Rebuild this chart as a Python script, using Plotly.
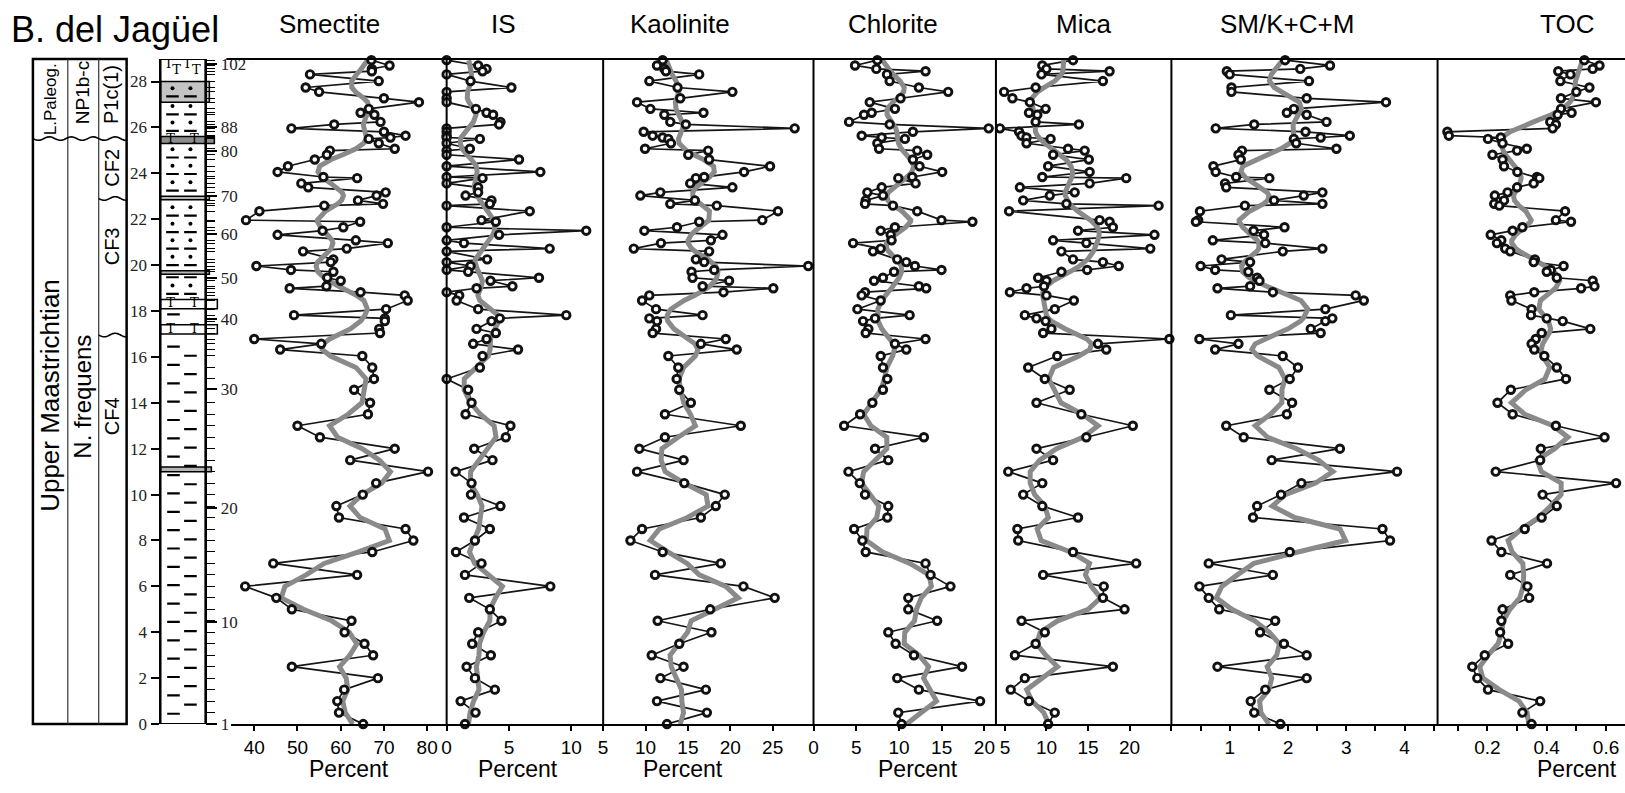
import numpy as np
import plotly.graph_objects as go

W, H = 1625, 793

# ---------------- data (top of section first) ----------------
depth_m = [28.93, 28.7, 28.55, 28.45, 28.31, 28.02, 27.74, 27.55, 27.27, 27.1,
           26.81, 26.64, 26.55, 26.24, 26.13, 25.96, 25.81, 25.64, 25.56, 25.5,
           25.31, 25.07, 24.99, 24.81, 24.6, 24.31, 24.06, 23.84, 23.79, 23.56,
           23.39, 23.17, 23.03, 22.82, 22.67, 22.59, 22.35, 21.96, 21.89, 21.65,
           21.5, 21.32, 21.08, 20.96, 20.72, 20.6, 20.25, 20.13, 19.96, 19.79,
           19.71, 19.45, 19.32, 19.08, 18.99, 18.82, 18.68, 18.46, 18.08, 17.82,
           17.68, 17.56, 17.22, 17.04, 16.78, 16.57, 16.32, 16.04, 15.54, 15.04,
           14.57, 14.0, 13.5, 13.0, 12.5, 12.0, 11.5, 11.0, 10.5, 10.0,
           9.5, 9.0, 8.5, 8.0, 7.5, 7.0, 6.5, 6.0, 5.5, 5.0,
           4.5, 4.0, 3.5, 3.0, 2.5, 2.0, 1.5, 1.0, 0.5, 0.0]

smectite = [67.1, 71.3, 67.2, 67.2, 52.9, 68.8, 51.9, 55.0, 70.0, 78.1,
            66.5, 64.6, 67.8, 69.2, 58.5, 48.6, 70.0, 75.0, 71.5, 66.5,
            68.8, 72.5, 57.5, 56.8, 54.0, 47.8, 45.4, 56.0, 63.8, 50.9,
            52.5, 70.4, 68.3, 64.0, 69.8, 56.2, 41.2, 38.1, 64.5, 60.6,
            55.8, 45.4, 63.5, 70.9, 61.4, 51.3, 58.3, 57.7, 40.5, 48.5,
            58.3, 56.9, 60.0, 56.7, 48.2, 64.6, 74.8, 75.5, 70.5, 49.2,
            70.2, 70.2, 68.9, 69.1, 40.0, 55.5, 46.0, 65.0, 67.3, 67.7,
            63.1, 66.8, 66.3, 50.0, 55.2, 72.5, 62.2, 80.2, 68.2, 65.1,
            59.0, 59.6, 75.0, 76.8, 67.3, 44.4, 63.8, 37.9, 45.1, 48.7,
            62.5, 60.9, 65.5, 67.5, 48.7, 68.6, 60.8, 59.2, 59.6, 65.2]

illite_smectite = [0, 2.53, 3.2, 2.88, 0, 1.92, 5.2, 0, 0, 0,
                   2.35, 3.2, 3.73, 4.32, 4.21, 0, 0, 0, 0, 2.67,
                   0, 1.87, 0, 0, 5.81, 0, 7.52, 0, 2.88, 0,
                   2.53, 2.53, 1.52, 3.6, 3.47, 0, 6.67, 2.8, 3.95, 0,
                   11.2, 4.21, 0, 1.39, 8.27, 0, 3.25, 0, 1.92, 0,
                   1.73, 7.41, 3.52, 5.28, 2.4, 0, 1.01, 0.8, 2.53, 9.6,
                   4.27, 3.6, 2.4, 3.95, 3.2, 2.13, 5.73, 2.88, 2.67, 0,
                   1.73, 2.0, 1.52, 5.12, 4.75, 2.21, 3.68, 0.72, 2.0, 1.95,
                   4.32, 1.39, 3.47, 2.27, 0.75, 2.8, 1.47, 8.32, 1.81, 3.47,
                   4.4, 2.53, 2.05, 3.55, 1.6, 2.27, 3.87, 1.12, 2.32, 1.47]

kaolinite = [12.02, 11.35, 12.22, 12.41, 16.33, 10.45, 13.78, 20.25, 14.1, 9.0,
             10.57, 16.84, 12.22, 12.92, 14.76, 27.6, 9.78, 10.84, 12.02, 12.69,
             13.0, 9.94, 17.39, 15.04, 17.51, 24.69, 21.63, 16.92, 15.94, 15.27,
             20.25, 11.75, 9.39, 15.82, 12.92, 18.41, 25.63, 23.78, 16.33, 13.71,
             9.86, 19.08, 17.71, 11.82, 8.61, 17.51, 15.94, 16.92, 29.2, 18.1,
             15.43, 15.55, 19.86, 16.73, 25.08, 19.2, 10.45, 9.59, 11.24, 16.73,
             10.45, 11.35, 11.24, 10.84, 19.47, 16.53, 20.76, 12.69, 13.86, 13.67,
             13.98, 15.35, 12.29, 21.24, 12.29, 9.27, 14.49, 9.0, 14.57, 19.35,
             18.29, 16.53, 9.59, 8.22, 12.02, 18.88, 11.12, 21.55, 25.24, 17.63,
             11.43, 17.78, 13.98, 10.73, 14.49, 11.75, 17.12, 11.35, 17.24, 12.53]

chlorite = [7.47, 4.86, 7.35, 13.11, 8.6, 8.91, 12.33, 15.76, 10.19, 6.58,
            9.53, 6.81, 5.91, 4.16, 8.91, 20.5, 11.63, 5.64, 7.98, 10.7,
            7.47, 7.67, 12.14, 13.31, 11.63, 12.41, 15.06, 11.56, 9.92, 11.95,
            7.98, 6.3, 8.13, 6.11, 6.03, 9.3, 12.14, 14.98, 18.6, 9.53,
            7.86, 9.03, 9.14, 4.63, 7.86, 6.96, 9.8, 10.86, 11.87, 14.98,
            9.42, 8.13, 7.08, 12.33, 13.19, 6.03, 5.64, 7.86, 5.14, 11.25,
            7.2, 5.8, 6.42, 6.11, 13.11, 9.53, 10.86, 7.86, 8.13, 8.64,
            8.13, 6.89, 5.45, 3.58, 12.92, 7.2, 8.75, 4.09, 5.41, 6.03,
            8.75, 8.64, 4.75, 5.72, 6.11, 13.11, 13.7, 16.03, 11.09, 11.09,
            14.47, 8.75, 9.61, 11.75, 17.39, 9.8, 12.33, 19.5, 9.92, 10.31]

mica = [13.2, 9.5, 10.0, 17.6, 9.4, 16.8, 8.7, 4.9, 5.9, 8.0,
        9.9, 7.9, 8.9, 8.7, 13.9, 4.4, 6.7, 7.0, 7.6, 10.5,
        7.6, 12.6, 14.6, 10.8, 15.1, 10.2, 15.2, 9.5, 19.6, 15.2,
        6.8, 13.4, 10.4, 7.2, 12.4, 23.5, 5.5, 16.4, 17.6, 18.0,
        13.8, 23.0, 10.8, 14.8, 22.5, 11.8, 13.2, 16.8, 18.7, 14.9,
        11.8, 9.0, 10.0, 9.7, 7.6, 5.6, 10.0, 13.3, 11.0, 7.4,
        8.8, 9.9, 10.6, 9.6, 24.8, 16.2, 17.2, 11.3, 7.8, 9.8,
        12.8, 8.8, 14.2, 20.4, 14.8, 8.8, 10.8, 5.4, 9.5, 7.2,
        9.5, 13.8, 6.5, 6.6, 13.2, 20.8, 9.6, 16.9, 16.8, 19.4,
        7.0, 9.8, 8.7, 6.2, 18.0, 7.4, 5.7, 7.9, 11.0, 10.2]

sm_kcm = [1.95, 2.72, 2.21, 0.95, 1.0, 2.36, 1.03, 1.03, 2.32, 3.68,
          2.1, 1.98, 2.32, 2.66, 1.42, 0.76, 2.3, 3.06, 2.56, 2.1,
          2.14, 2.83, 1.21, 1.15, 1.19, 0.72, 0.76, 1.11, 1.68, 0.92,
          0.94, 2.59, 2.27, 1.76, 2.59, 1.26, 0.49, 0.46, 0.42, 1.94,
          1.41, 1.59, 0.71, 1.61, 2.59, 1.91, 0.86, 1.35, 0.5, 0.75,
          1.32, 1.47, 1.51, 1.35, 0.79, 1.74, 3.16, 3.3, 2.64, 1.02,
          2.76, 2.64, 2.39, 2.56, 0.48, 1.15, 0.75, 1.91, 2.17, 2.03,
          1.68, 2.07, 1.98, 0.94, 1.24, 2.89, 1.72, 3.87, 2.23, 1.88,
          1.47, 1.4, 3.62, 3.75, 2.03, 0.64, 1.74, 0.48, 0.64, 0.82,
          1.78, 1.52, 1.93, 2.32, 0.79, 2.32, 1.61, 1.36, 1.42, 1.87]

toc = [0.527, 0.578, 0.555, 0.439, 0.48, 0.446, 0.544, 0.50, 0.448, 0.566,
       0.448, 0.484, 0.437, 0.412, 0.431, 0.42, 0.065, 0.07, 0.245, 0.202,
       0.251, 0.333, 0.30, 0.217, 0.251, 0.256, 0.301, 0.367, 0.375, 0.356,
       0.30, 0.268, 0.225, 0.256, 0.223, 0.24, 0.462, 0.431, 0.482, 0.318,
       0.285, 0.211, 0.247, 0.232, 0.26, 0.277, 0.36, 0.356, 0.457, 0.414,
       0.40, 0.434, 0.555, 0.561, 0.516, 0.358, 0.277, 0.281, 0.349, 0.347,
       0.40, 0.454, 0.547, 0.383, 0.363, 0.349, 0.358, 0.392, 0.434, 0.465,
       0.279, 0.234, 0.285, 0.431, 0.595, 0.38, 0.378, 0.228, 0.634, 0.386,
       0.434, 0.383, 0.326, 0.214, 0.247, 0.401, 0.277, 0.335, 0.341, 0.251,
       0.247, 0.243, 0.27, 0.191, 0.149, 0.166, 0.202, 0.378, 0.318, 0.349]

panel_titles = ["Smectite", "IS", "Kaolinite", "Chlorite", "Mica", "SM/K+C+M", "TOC"]
panel_series = [smectite, illite_smectite, kaolinite, chlorite, mica, sm_kcm, toc]
panel_tickvals = [[40, 50, 60, 70, 80], [0, 5, 10], [5, 10, 15, 20, 25], [0, 5, 10, 15, 20],
                  [5, 10, 15, 20], [1, 2, 3, 4], [0.2, 0.4, 0.6]]
depth_ticks = [0, 2, 4, 6, 8, 10, 12, 14, 16, 18, 20, 22, 24, 26, 28]
sample_labels = ["1", "10", "20", "30", "40", "50", "60", "70", "80", "88", "102"]
sample_label_depth = [0, 4.44, 9.4, 14.6, 17.65, 19.42, 21.36, 23.03, 24.96, 26.03, 28.75]

for s in panel_series:
    assert len(s) == len(depth_m), len(s)

# ---------------- styling / layout geometry ----------------
panel_px = [(227, 443), (443, 600), (600, 811), (811, 994), (994, 1170), (1170, 1437), (1437, 1625)]
panel_range = [(34.7, 84.5), (0, 12.56), (5, 29.82), (0, 21.35), (3.92, 25.04), (0, 4.565), (0.032, 0.664)]
title_x = [326, 500, 677, 891, 1082, 1286, 1567]
percent_x = [345, 515, 680, 916, None, None, 1577]
TOP, BOT = 56, 733
YMAX = (BOT - TOP) / 23.36

SANS = "Liberation Sans, Arial, sans-serif"
SERIF = "Liberation Serif, Times New Roman, serif"


def px(x):
    return x / W


def py(y):
    return 1 - y / H


def smooth(d, v, s=0.5):
    d = np.asarray(d, float)
    v = np.asarray(v, float)
    w = np.exp(-0.5 * ((d[:, None] - d[None, :]) / s) ** 2)
    return (w @ v) / w.sum(axis=1)


fig = go.Figure()

layout = dict(
    width=W, height=H, autosize=False,
    margin=dict(l=0, r=0, t=0, b=0, pad=0),
    paper_bgcolor="white", plot_bgcolor="white",
    showlegend=False,
    xaxis=dict(domain=[px(156), px(201)], range=[156, 201], visible=False, fixedrange=True),
    yaxis=dict(domain=[py(BOT), py(TOP)], range=[0, YMAX], anchor="x", side="left",
               showline=True, linewidth=2, linecolor="black", ticks="outside", ticklen=8,
               tickwidth=1.5, tickcolor="black", tickvals=depth_ticks,
               tickfont=dict(family=SERIF, size=17, color="#222"), showgrid=False, zeroline=False),
    yaxis2=dict(domain=[py(BOT), py(TOP)], range=[0, YMAX], overlaying="y", anchor="x", side="right",
                showline=True, linewidth=2, linecolor="black", ticks="outside", ticklen=8,
                tickwidth=1.3, tickcolor="black", tickvals=depth_m, showticklabels=False,
                showgrid=False, zeroline=False),
    yaxis3=dict(domain=[py(BOT), py(TOP)], range=[0, YMAX], overlaying="y", anchor="x", side="right",
                showline=False, ticks="outside", ticklen=11, tickwidth=1.5, tickcolor="black",
                tickvals=sample_label_depth, ticktext=sample_labels,
                tickfont=dict(family=SERIF, size=17, color="#222"), showgrid=False, zeroline=False),
)

for i in range(7):
    ax = "xaxis%d" % (i + 2)
    a, b = panel_px[i]
    d = dict(domain=[px(a), px(b)], range=list(panel_range[i]), anchor="y",
             showline=True, linewidth=2, linecolor="black", ticks="outside", ticklen=5,
             tickwidth=1.5, tickcolor="black", tickvals=panel_tickvals[i],
             tickfont=dict(family=SANS, size=19, color="black"), showgrid=False, zeroline=False)
    if panel_titles[i] == "SM/K+C+M":
        d["minor"] = dict(ticks="outside", ticklen=5, tickwidth=1.5, tickcolor="black", dtick=0.5, tick0=0)
    if panel_titles[i] == "TOC":
        d["minor"] = dict(ticks="outside", ticklen=5, tickwidth=1.5, tickcolor="black", dtick=0.1, tick0=0)
        d["ticktext"] = ["0.2", "0.4", "0.6"]
    layout[ax] = d

# ---------------- data traces ----------------
for i, vals in enumerate(panel_series):
    xa = "x%d" % (i + 2)
    fig.add_trace(go.Scatter(x=vals, y=depth_m, xaxis=xa, yaxis="y", mode="lines",
                             line=dict(color="#151515", width=1.7), cliponaxis=False, hoverinfo="skip"))
    fig.add_trace(go.Scatter(x=smooth(depth_m, vals), y=depth_m, xaxis=xa, yaxis="y", mode="lines",
                             line=dict(color="#8a8a8a", width=5), cliponaxis=False, hoverinfo="skip"))
    fig.add_trace(go.Scatter(x=vals, y=depth_m, xaxis=xa, yaxis="y", mode="markers",
                             marker=dict(symbol="circle", size=7.5, color="white",
                                         line=dict(color="#111", width=2.9)),
                             cliponaxis=False, hoverinfo="skip"))

# invisible helpers so the sample-number axes are drawn
for ya in ["y2", "y3"]:
    fig.add_trace(go.Scatter(x=[170], y=[1], xaxis="x", yaxis=ya, mode="markers",
                             marker=dict(opacity=0), hoverinfo="skip"))

# ---------------- lithology column decorations ----------------
shapes = []
beds = [(11.0, 11.2, "#b4b4b4", 207), (17.0, 17.4, "white", 213), (18.1, 18.5, "white", 213),
        (19.6, 19.75, "#b4b4b4", 205), (22.85, 23.0, "#b4b4b4", 205), (25.3, 25.6, "#8c8c8c", 210),
        (27.1, 28.0, "#c4c4c4", 205)]
for b0, b1, fc, xr in beds:
    shapes.append(dict(type="rect", xref="paper", yref="y", x0=px(156), x1=px(xr), y0=b0, y1=b1,
                       fillcolor=fc, line=dict(color="black", width=1.5), layer="below"))
shapes.append(dict(type="rect", xref="paper", yref="y", x0=px(156), x1=px(201), y0=0, y1=YMAX,
                   line=dict(color="black", width=2), fillcolor="rgba(0,0,0,0)"))

dash_x, dash_y, dot_x, dot_y, t_x, t_y = [], [], [], [], [], []
for lo, hi in [(0.0, 17.0), (17.4, 18.1)]:
    y = lo + 0.45
    k = 0
    while y < hi - 0.15:
        dash_x.append(169 if k % 2 == 0 else 186)
        dash_y.append(y)
        y += 0.4
        k += 1
for lo, hi in [(18.5, 19.6), (19.75, 22.85), (23.0, 25.3), (25.6, 27.1), (27.1, 28.0)]:
    y = lo + 0.25
    k = 0
    while y < hi - 0.12:
        if k % 2 == 0:
            dash_x += [168, 186]
            dash_y += [y, y]
        else:
            dot_x += [168, 186]
            dot_y += [y, y]
        y += 0.36
        k += 1
for yc, xs in [(17.2, [166, 190]), (18.3, [166, 190]), (28.75, [164, 183]), (28.45, [172, 192]),
               (25.45, [166, 190])]:
    for xx in xs:
        t_x.append(xx)
        t_y.append(yc)

fig.add_trace(go.Scatter(x=dash_x, y=dash_y, xaxis="x", yaxis="y", mode="markers",
                         marker=dict(symbol="line-ew", size=9, line=dict(color="black", width=2.2)),
                         hoverinfo="skip"))
fig.add_trace(go.Scatter(x=dot_x, y=dot_y, xaxis="x", yaxis="y", mode="markers",
                         marker=dict(symbol="circle", size=4, color="black"), hoverinfo="skip"))
fig.add_trace(go.Scatter(x=t_x, y=t_y, xaxis="x", yaxis="y", mode="text", text=["T"] * len(t_x),
                         textfont=dict(family="DejaVu Serif", size=13, color="black"), hoverinfo="skip"))

shapes.append(dict(type="line", xref="paper", yref="paper", x0=px(222), x1=px(1625), y0=py(TOP), y1=py(TOP),
                   line=dict(color="black", width=2)))
for xv in [443, 600, 811, 994, 1170, 1437]:
    shapes.append(dict(type="line", xref="paper", yref="paper", x0=px(xv), x1=px(xv), y0=py(TOP), y1=py(BOT),
                       line=dict(color="black", width=2)))

shapes.append(dict(type="rect", xref="paper", yref="paper", x0=px(28), x1=px(122), y0=py(BOT), y1=py(TOP),
                   line=dict(color="black", width=2.5)))
for xv in [63, 94]:
    shapes.append(dict(type="line", xref="paper", yref="paper", x0=px(xv), x1=px(xv), y0=py(BOT), y1=py(TOP),
                       line=dict(color="#333", width=1.2)))


def wavy(x0, x1, yc, amp=1.8, period=22.0):
    xs = np.linspace(x0, x1, 40)
    ys = yc + amp * np.sin(2 * np.pi * (xs - x0) / period)
    return "M " + " L ".join("%.5f,%.5f" % (px(a), py(b)) for a, b in zip(xs, ys))


for x0, x1, yc in [(28, 122, 137), (94, 122, 198), (94, 122, 337)]:
    shapes.append(dict(type="path", xref="paper", yref="paper", path=wavy(x0, x1, yc),
                       line=dict(color="black", width=1.6)))

annotations = []
annotations.append(dict(text="B. del Jagüel", xref="paper", yref="paper", x=px(4), y=py(26),
                        xanchor="left", yanchor="middle", showarrow=False,
                        font=dict(family=SANS, size=36, color="black")))
for i, t in enumerate(panel_titles):
    annotations.append(dict(text=t, xref="paper", yref="paper", x=px(title_x[i]), y=py(20),
                            xanchor="center", yanchor="middle", showarrow=False,
                            font=dict(family=SANS, size=26, color="black")))
    if percent_x[i] is not None:
        annotations.append(dict(text="Percent", xref="paper", yref="paper", x=px(percent_x[i]), y=py(779),
                                xanchor="center", yanchor="middle", showarrow=False,
                                font=dict(family=SANS, size=23, color="black")))

strat_text = [("L.Paleog.", 45, 97, 17), ("NP1b-c", 78, 90, 19), ("P1c(1)", 107, 92, 20),
              ("Upper Maastrichtian", 45, 398, 26), ("N. frequens", 78, 400, 24),
              ("CF2", 107, 167, 20), ("CF3", 107, 247, 20), ("CF4", 107, 420, 20)]
for t, xc, yc, fs in strat_text:
    annotations.append(dict(text=t, xref="paper", yref="paper", x=px(xc), y=py(yc), textangle=-90,
                            xanchor="center", yanchor="middle", showarrow=False,
                            font=dict(family=SANS, size=fs, color="black")))

layout["shapes"] = shapes
layout["annotations"] = annotations
fig.update_layout(**layout)
fig.write_html("out.html", config={"displayModeBar": False},
               post_script="document.body.style.margin='0px';document.body.style.overflow='hidden';")
